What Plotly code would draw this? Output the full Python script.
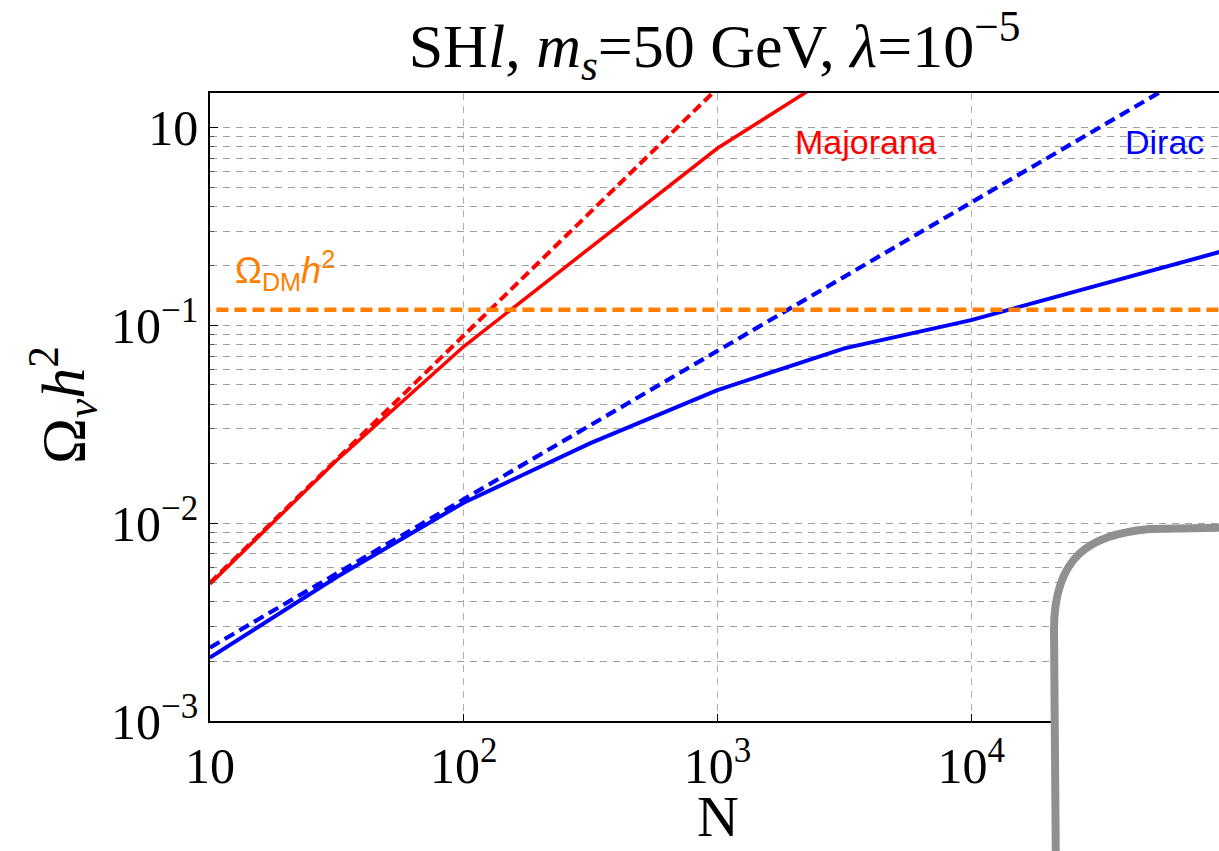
import plotly.graph_objects as go

# Relic abundance vs number of sterile species N
N_SAMPLES = [10, 31.6, 100, 316, 1000, 3162, 10000, 100000]

majorana_full = [0.00493, 0.0208, 0.0782, None, 0.786, 2.0, None, None]
majorana_approx = [0.0050, None, 0.089, None, 1.58, None, None, None]
dirac_full = [0.00209, 0.00535, 0.0127, 0.0254, 0.0471, 0.0766, 0.1064, 0.239]
dirac_approx = [0.00235, None, 0.0132, None, 0.0743, None, 0.418, 2.35]

OMEGA_DM = 0.12

Y_TICKS = [1e-3, 1e-2, 1e-1, 1]
Y_TICK_TEXT = ["10<sup>−3</sup>", "10<sup>−2</sup>", "10<sup>−1</sup>", "10"]
X_TICKS = [10, 100, 1000, 10000]
X_TICK_TEXT = ["10", "10<sup>2</sup>", "10<sup>3</sup>", "10<sup>4</sup>"]


def pts(xs, ys):
    out = [(x, y) for x, y in zip(xs, ys) if y is not None]
    return [p[0] for p in out], [p[1] for p in out]


W, H = 1219, 851
L, R, T, B = 210, 0, 93, 130
PW, PH = W - L - R, H - T - B


def px(x):
    return (x - L) / PW


def py(y):
    return (H - B - y) / PH


SERIF = "Liberation Serif"
SANS = "Liberation Sans"

fig = go.Figure()

x, y = pts(N_SAMPLES, majorana_approx)
fig.add_trace(go.Scatter(x=x, y=y, mode="lines",
                         line=dict(color="#ff0000", width=4, dash="10px,5px")))
x, y = pts(N_SAMPLES, majorana_full)
fig.add_trace(go.Scatter(x=x, y=y, mode="lines",
                         line=dict(color="#ff0000", width=3.5)))
x, y = pts(N_SAMPLES, dirac_approx)
fig.add_trace(go.Scatter(x=x, y=y, mode="lines",
                         line=dict(color="#0000ff", width=4.2, dash="11px,6px")))
x, y = pts(N_SAMPLES, dirac_full)
fig.add_trace(go.Scatter(x=x, y=y, mode="lines",
                         line=dict(color="#0000ff", width=4)))
fig.add_trace(go.Scatter(x=[9, 200000], y=[OMEGA_DM, OMEGA_DM], mode="lines",
                         line=dict(color="#ff8000", width=4.5, dash="12px,6px"),
                         cliponaxis=False))

minor_y = [m * 10.0 ** k for k in range(-3, 1) for m in range(2, 10)]

fig.update_xaxes(
    type="log", range=[1, 4.977],
    tickmode="array", tickvals=X_TICKS, ticktext=X_TICK_TEXT,
    showgrid=True, gridcolor="#b0b0b0", griddash="7px,6px", gridwidth=1,
    showline=True, linecolor="black", linewidth=1.5, mirror=True,
    ticks="inside", ticklen=7, tickcolor="black",
    tickfont=dict(family=SERIF, size=50, color="black"),
    zeroline=False,
)
fig.update_yaxes(
    type="log", range=[-3, 0.175],
    tickmode="array", tickvals=Y_TICKS, ticktext=Y_TICK_TEXT,
    showgrid=True, gridcolor="#a0a0a0", griddash="7px,6px", gridwidth=1,
    showline=True, linecolor="black", linewidth=1.5, mirror=False,
    ticks="inside", ticklen=8, tickcolor="black",
    tickfont=dict(family=SERIF, size=50, color="black"),
    minor=dict(tickmode="array", tickvals=minor_y, showgrid=True,
               gridcolor="#a0a0a0", griddash="7px,6px", gridwidth=1,
               ticks="inside", ticklen=4, tickcolor="#555"),
    zeroline=False,
)

annotations = [
    dict(x=px(866), y=py(142), text="Majorana",
         font=dict(family=SANS, size=34, color="#ff0000")),
    dict(x=px(1164), y=py(142), text="Dirac",
         font=dict(family=SANS, size=34, color="#0000ff")),
    dict(x=px(285), y=py(270), text="Ω<sub>DM</sub><i>h</i><sup>2</sup>",
         font=dict(family=SANS, size=36, color="#ff8000")),
    dict(x=px(718), y=py(816), text="N",
         font=dict(family=SERIF, size=58, color="black")),
    dict(x=px(62), y=py(405), text="Ω<sub><i>ν</i></sub><i>h</i><sup>2</sup>",
         textangle=-90, font=dict(family=SERIF, size=62, color="black")),
]
for a in annotations:
    a.update(xref="paper", yref="paper", xanchor="center", yanchor="middle",
             showarrow=False)

# Grey outlined white panel in the lower right corner
pts_path = [(1056, 880), (1054, 630)]
c1, c2, end = (1054, 556), (1090, 534), (1150, 529)
path = "M {},{} L {},{} C {},{} {},{} {},{} L {},{} L {},{} L {},{} Z".format(
    px(pts_path[0][0]), py(pts_path[0][1]),
    px(pts_path[1][0]), py(pts_path[1][1]),
    px(c1[0]), py(c1[1]), px(c2[0]), py(c2[1]), px(end[0]), py(end[1]),
    px(1260), py(527), px(1260), py(880), px(1056), py(880),
)

fig.update_layout(
    width=W, height=H,
    margin=dict(l=L, r=R, t=T, b=B),
    paper_bgcolor="white", plot_bgcolor="white",
    showlegend=False,
    title=dict(text="SH<i>l</i>, <i>m<sub>s</sub></i>=50 GeV, <i>λ</i>=10<sup>−5</sup>",
               x=0.5, xref="paper", xanchor="center",
               y=1 - 45 / H, yref="container", yanchor="middle",
               font=dict(family=SERIF, size=62, color="black")),
    annotations=annotations,
    shapes=[dict(type="path", xref="paper", yref="paper", path=path,
                 fillcolor="white", line=dict(color="#909090", width=8),
                 layer="above")],
)

fig.write_html("out.html")
